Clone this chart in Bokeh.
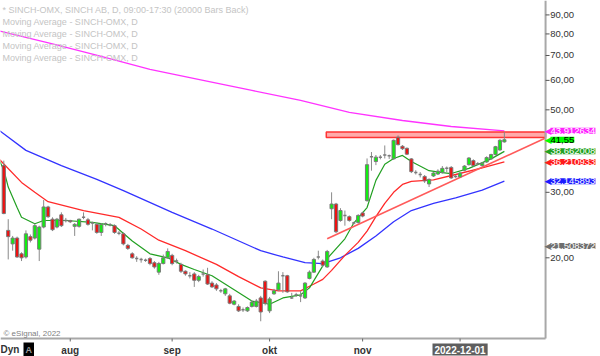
import pandas as pd
from bokeh.plotting import figure
from bokeh.models import Label, ColumnDataSource
from bokeh.embed import file_html
from bokeh.resources import INLINE
from bokeh.core.properties import value

# ---------------- data ----------------
dates = pd.bdate_range("2022-07-11", "2022-12-15")

opens = [35.4, 23.7, 21.8, 22.6, 20.5, 20.1, 22.8, 22.6, 21.1, 24.2,
         27.4, 25.4, 24.2, 26.1, 25.2, 25.2, 24.3, 24.3, 25.7, 25.3,
         24.8, 24.6, 23.4, 24.7, 24.5, 24.4, 23.3, 23.2, 21.6, 20.5,
         19.9, 19.8, 19.7, 19.9, 19.4, 18.3, 19.3, 20.0, 20.3, 19.6,
         19.2, 18.4, 17.9, 18.1, 17.4, 18.1, 18.0, 17.1, 16.9, 16.3,
         16.0, 15.8, 15.0, 14.8, 14.5, 14.4, 14.8, 14.8, 15.6, 17.3,
         14.4, 16.0, 16.4, 17.9, 17.9, 15.6, 15.9, 15.8, 15.6, 17.6,
         18.3, 20.1, 19.6, 18.9, 27.1, 27.9, 25.2, 26.0, 25.8, 24.8,
         24.9, 26.4, 28.5, 37.4, 36.3, 37.3, 37.8, 37.6, 36.9, 42.2,
         39.9, 39.4, 36.9, 33.9, 33.5, 33.1, 31.6, 33.2, 33.6, 33.9,
         34.8, 35.0, 33.1, 33.0, 34.4, 35.6, 36.5, 35.8, 35.4, 36.2,
         36.9, 37.9, 39.0, 41.0]
highs = [36.5, 25.4, 22.9, 22.8, 20.7, 23.7, 23.1, 24.7, 24.4, 28.6,
         27.6, 25.7, 25.6, 26.5, 25.6, 25.3, 24.8, 25.5, 26.5, 25.6,
         25.0, 24.9, 24.8, 24.9, 24.8, 24.6, 23.6, 23.4, 21.8, 20.7,
         20.2, 20.0, 19.9, 20.1, 19.6, 19.5, 20.4, 21.2, 20.5, 19.9,
         19.4, 18.5, 18.3, 18.3, 18.0, 18.6, 18.8, 17.3, 17.1, 16.5,
         16.6, 16.0, 15.4, 15.0, 14.7, 14.8, 15.4, 15.5, 15.8, 17.4,
         15.7, 16.5, 18.4, 18.3, 18.0, 16.1, 16.1, 16.3, 17.2, 18.5,
         20.0, 20.9, 19.8, 21.0, 30.0, 28.1, 27.2, 26.8, 26.0, 25.0,
         26.2, 26.6, 37.0, 38.5, 37.8, 37.8, 40.1, 37.9, 41.6, 42.7,
         40.2, 39.6, 37.1, 34.4, 34.0, 33.4, 32.7, 34.0, 34.6, 35.3,
         35.2, 35.3, 33.4, 34.0, 35.5, 37.3, 36.8, 36.2, 36.2, 37.5,
         38.1, 40.0, 41.7, 43.6]
lows = [26.2, 19.8, 20.9, 20.0, 19.6, 19.9, 22.0, 22.4, 19.6, 24.0,
        25.6, 23.6, 24.0, 24.2, 24.9, 24.8, 22.9, 24.1, 25.4, 24.4,
        23.7, 23.2, 22.9, 24.3, 24.3, 23.2, 23.0, 21.6, 21.0, 19.9,
        19.5, 19.4, 19.5, 19.1, 18.7, 18.0, 19.2, 19.9, 19.1, 19.3,
        18.2, 17.9, 17.6, 16.7, 17.2, 17.8, 16.9, 16.6, 16.3, 16.1,
        15.8, 15.0, 14.9, 14.3, 14.3, 14.3, 14.7, 14.7, 13.5, 14.9,
        14.2, 15.9, 16.3, 16.1, 16.1, 15.5, 15.7, 15.2, 15.5, 17.5,
        18.2, 19.8, 18.9, 18.8, 25.4, 23.3, 25.0, 24.4, 25.0, 24.6,
        24.7, 25.7, 28.3, 34.3, 35.5, 36.8, 37.0, 36.9, 36.7, 40.1,
        39.0, 37.8, 33.8, 33.5, 32.9, 31.8, 31.0, 33.0, 33.4, 33.7,
        34.0, 32.6, 32.8, 32.9, 34.2, 35.4, 35.2, 35.5, 35.2, 36.0,
        36.7, 37.7, 38.8, 40.8]
closes = [26.3, 22.8, 22.6, 20.1, 20.0, 23.2, 22.3, 24.4, 24.2, 27.4,
          25.8, 23.8, 25.4, 24.4, 25.2, 25.0, 24.6, 25.4, 25.7, 24.6,
          24.8, 23.4, 24.6, 24.7, 24.5, 23.4, 23.3, 21.8, 21.2, 20.0,
          19.9, 19.8, 19.7, 19.3, 18.9, 19.3, 20.0, 20.8, 19.3, 19.6,
          18.4, 18.1, 17.9, 17.4, 17.8, 18.1, 17.0, 16.7, 16.5, 16.3,
          16.5, 15.1, 15.3, 14.4, 14.5, 14.7, 15.2, 15.3, 14.3, 15.1,
          15.5, 16.3, 17.1, 17.9, 16.2, 15.6, 15.9, 15.8, 17.1, 18.3,
          19.8, 20.1, 19.1, 20.8, 27.9, 23.5, 26.8, 26.0, 25.2, 24.8,
          26.0, 25.9, 35.6, 37.4, 37.3, 37.3, 37.8, 37.6, 41.4, 40.3,
          39.3, 38.0, 34.1, 33.9, 33.5, 32.2, 32.5, 33.8, 34.2, 34.8,
          34.8, 32.8, 33.1, 33.8, 35.3, 37.1, 35.4, 35.8, 35.9, 37.2,
          37.9, 39.8, 41.4, 41.55]

# moving averages (bar index, value)
ma_fast_idx = [-1, 0, 1, 3, 4, 7, 9, 14, 20, 25, 29, 33, 37, 40, 43, 47, 52, 56,
               60, 63, 67, 69, 73, 77, 79, 82, 84, 86, 88, 90, 92, 96, 99, 101,
               105, 110, 113]
ma_fast_val = [36.5, 34.5, 31.0, 27.3, 25.7, 24.7, 25.2, 25.2, 24.9, 24.4, 22.2,
               20.5, 20.0, 19.2, 18.6, 17.9, 16.4, 15.3, 15.0, 15.6, 15.9, 16.6,
               19.9, 22.5, 24.8, 27.3, 32.3, 35.7, 37.0, 37.7, 36.3, 34.3, 33.9,
               33.7, 34.8, 36.9, 38.662008]
ma_mid_idx = [-1, 4, 7, 10, 18, 26, 31, 35, 41, 48, 53, 58, 62, 67, 70, 72, 74,
              77, 80, 82, 84, 86, 88, 90, 92, 97, 102, 108, 113]
ma_mid_val = [36.8, 31.9, 30.0, 28.3, 26.8, 25.7, 23.9, 22.3, 20.9, 19.2, 17.8,
              16.6, 16.3, 16.3, 17.0, 17.5, 18.5, 20.3, 22.0, 23.6, 25.8, 28.0,
              30.0, 31.5, 32.1, 32.4, 33.5, 34.9, 36.210933]
ma_slow_idx = [-1, 5, 13, 21, 27, 38, 47, 58, 63, 68, 72, 76, 80, 84, 88, 92, 97,
               102, 108, 113]
ma_slow_val = [44.0, 38.9, 35.4, 32.5, 30.3, 26.5, 23.9, 20.9, 20.1, 19.4, 19.3,
               20.0, 21.2, 22.9, 25.0, 26.8, 28.0, 29.0, 30.4, 32.145893]
ma_long_idx = [-1, 11, 22, 33, 45, 56, 67, 78, 90, 101, 113]
ma_long_val = [81.5, 75.2, 69.6, 64.2, 60.0, 56.4, 53.0, 49.2, 46.8, 45.1, 43.912634]

# drawn objects: resistance zone and rising trend line
zone_start, zone_end = 72.8, 122.3
zone_low, zone_high = 42.1, 43.6
trend_idx = [73.0, 122.3]
trend_val = [22.5, 42.0]

# right-hand value tags
tag_values = [43.912634, 41.55, 38.662008, 36.210933, 32.145893, 21.508372]
tag_texts = ["43,912634", "41,55", "38,662008", "36,210933", "32,145893", "21,508372"]
tag_bg = ["#ff22ff", "#00ff00", "#22a022", "#ff1a1a", "#1a1aff", "#6e6e6e"]
tag_fg = ["white", "black", "white", "white", "white", "white"]

y_ticks = [20, 30, 50, 60, 70, 80, 90]
y_tick_labels = ["20,00", "30,00", "50,00", "60,00", "70,00", "80,00", "90,00"]
month_ticks = ["2022-08-01", "2022-09-01", "2022-10-03", "2022-11-01", "2022-12-01"]
month_labels = ["aug", "sep", "okt", "nov", "2022-12-01"]

legend_lines = ["* SINCH-OMX, SINCH AB, D, 09:00-17:30 (20000 Bars Back)",
                "Moving Average - SINCH-OMX, D",
                "Moving Average - SINCH-OMX, D",
                "Moving Average - SINCH-OMX, D",
                "Moving Average - SINCH-OMX, D"]

# ---------------- layout constants ----------------
FONT = "Liberation Sans"
X_LEFT, X_RIGHT_CANVAS = -0.745, 134.7      # bar-index range across the whole canvas
Y_TOP, Y_BOTTOM_CANVAS = 98.4, 10.854       # price range across the whole canvas (log)
PANE_RIGHT = 122.3                          # right edge of the price pane (axis line)
PANE_BOTTOM = 12.13                         # bottom edge of the price pane (time axis)

p = figure(width=600, height=356, x_range=(X_LEFT, X_RIGHT_CANVAS),
           y_range=(Y_BOTTOM_CANVAS, Y_TOP), y_axis_type="log",
           x_axis_location=None, y_axis_location=None,
           toolbar_location=None, output_backend="svg", min_border=0)
p.outline_line_color = None
p.grid.visible = False
p.background_fill_color = "white"
p.border_fill_color = "white"

# moving averages
p.line(ma_long_idx, ma_long_val, line_color="#ff33ff", line_width=1.3)
p.line(ma_slow_idx, ma_slow_val, line_color="#3333ff", line_width=1.3)
p.line(ma_mid_idx, ma_mid_val, line_color="#ff2a2a", line_width=1.3)
p.line(ma_fast_idx, ma_fast_val, line_color="#22a022", line_width=1.2)

# zone and trend line
p.quad(left=[zone_start], right=[zone_end], bottom=[zone_low], top=[zone_high],
       fill_color="#ffaaaa", line_color="#ff3333", line_width=1.5)
p.line(trend_idx, trend_val, line_color="#ff5a5a", line_width=1.6)

# candles
x = list(range(len(opens)))
tops = [max(o, c) for o, c in zip(opens, closes)]
bots = [min(o, c) for o, c in zip(opens, closes)]
cols = ["#11ee11" if c > o else "#ee1111" for o, c in zip(opens, closes)]
body_idx = [i for i in x if opens[i] != closes[i]]
doji_idx = [i for i in x if opens[i] == closes[i]]

p.segment(x0=x, y0=lows, x1=x, y1=highs, line_color="#8a8a8a", line_width=1)
body = ColumnDataSource(dict(x=[x[i] for i in body_idx], top=[tops[i] for i in body_idx],
                             bottom=[bots[i] for i in body_idx], color=[cols[i] for i in body_idx]))
p.vbar(x="x", width=0.72, top="top", bottom="bottom", fill_color="color",
       line_color="#7a7a7a", line_width=1, source=body)
p.segment(x0=[i - 0.36 for i in doji_idx], y0=[closes[i] for i in doji_idx],
          x1=[i + 0.36 for i in doji_idx], y1=[closes[i] for i in doji_idx],
          line_color="#7a7a7a", line_width=1.5)

# ---- price axis (right) ----
p.segment(x0=[PANE_RIGHT], y0=[PANE_BOTTOM], x1=[PANE_RIGHT], y1=[Y_TOP],
          line_color="#a8a8a8", line_width=2)
p.segment(x0=[PANE_RIGHT] * len(y_ticks), y0=y_ticks,
          x1=[PANE_RIGHT + 0.9] * len(y_ticks), y1=y_ticks,
          line_color="#555555", line_width=1)
p.text(x=[PANE_RIGHT + 1.05] * len(y_ticks), y=y_ticks, text=y_tick_labels,
       text_font=value(FONT), text_font_size="9.5px", text_color="#333333",
       text_baseline="middle", text_align="left")

# ---- time axis (bottom) ----
date_strs = [d.strftime("%Y-%m-%d") for d in dates]
tick_idx = [date_strs.index(m) for m in month_ticks]
p.segment(x0=[X_LEFT], y0=[PANE_BOTTOM], x1=[PANE_RIGHT], y1=[PANE_BOTTOM],
          line_color="#a8a8a8", line_width=2)
p.segment(x0=tick_idx, y0=[PANE_BOTTOM] * len(tick_idx), x1=tick_idx,
          y1=[PANE_BOTTOM * 0.982] * len(tick_idx), line_color="#666666", line_width=1)
for i, lab in zip(tick_idx, month_labels):
    if lab == "2022-12-01":
        p.add_layout(Label(x=i, y=7, x_units="data", y_units="screen", text=lab,
                           text_font=FONT, text_font_size="10px", text_font_style="bold",
                           text_color="white", text_align="center", text_baseline="middle",
                           background_fill_color="#5e5e5e", padding=2))
    else:
        p.add_layout(Label(x=i, y=6, x_units="data", y_units="screen", text=lab,
                           text_font=FONT, text_font_size="10px", text_font_style="bold",
                           text_color="#333333", text_align="center", text_baseline="middle"))

# legend-like header text
for k, t in enumerate(legend_lines):
    p.add_layout(Label(x=2, y=347 - 12.1 * k, x_units="screen", y_units="screen", text=t,
                       text_font=FONT, text_font_size="9px",
                       text_color="#c4c4c4", text_baseline="middle"))

p.add_layout(Label(x=3, y=23, x_units="screen", y_units="screen", text="\u00a9 eSignal, 2022",
                   text_font=FONT, text_font_size="8px", text_color="#808080",
                   text_baseline="middle"))

# right value tags
for v, t, bg, fg in zip(tag_values, tag_texts, tag_bg, tag_fg):
    p.add_layout(Label(x=544, y=v, x_units="screen", y_units="data", text="\u25c0",
                       text_font="DejaVu Sans", text_font_size="9px", text_color=bg,
                       text_baseline="middle"))
    p.add_layout(Label(x=550, y=v, x_units="screen", y_units="data", text=t,
                       text_font=FONT, text_font_size="9.5px", text_color=fg,
                       text_baseline="middle", background_fill_color=bg, padding=0))

# bottom-left widgets
p.add_layout(Label(x=0, y=7, x_units="screen", y_units="screen", text="Dyn",
                   text_font=FONT, text_font_size="10px", text_font_style="bold",
                   text_color="#333333", text_baseline="middle"))
p.add_layout(Label(x=23, y=7, x_units="screen", y_units="screen", text="A",
                   text_font=FONT, text_font_size="9px", text_font_style="bold",
                   text_color="#9a9a9a", text_baseline="middle",
                   background_fill_color="black", padding=2))

open("out.html", "w").write(file_html(p, INLINE))
